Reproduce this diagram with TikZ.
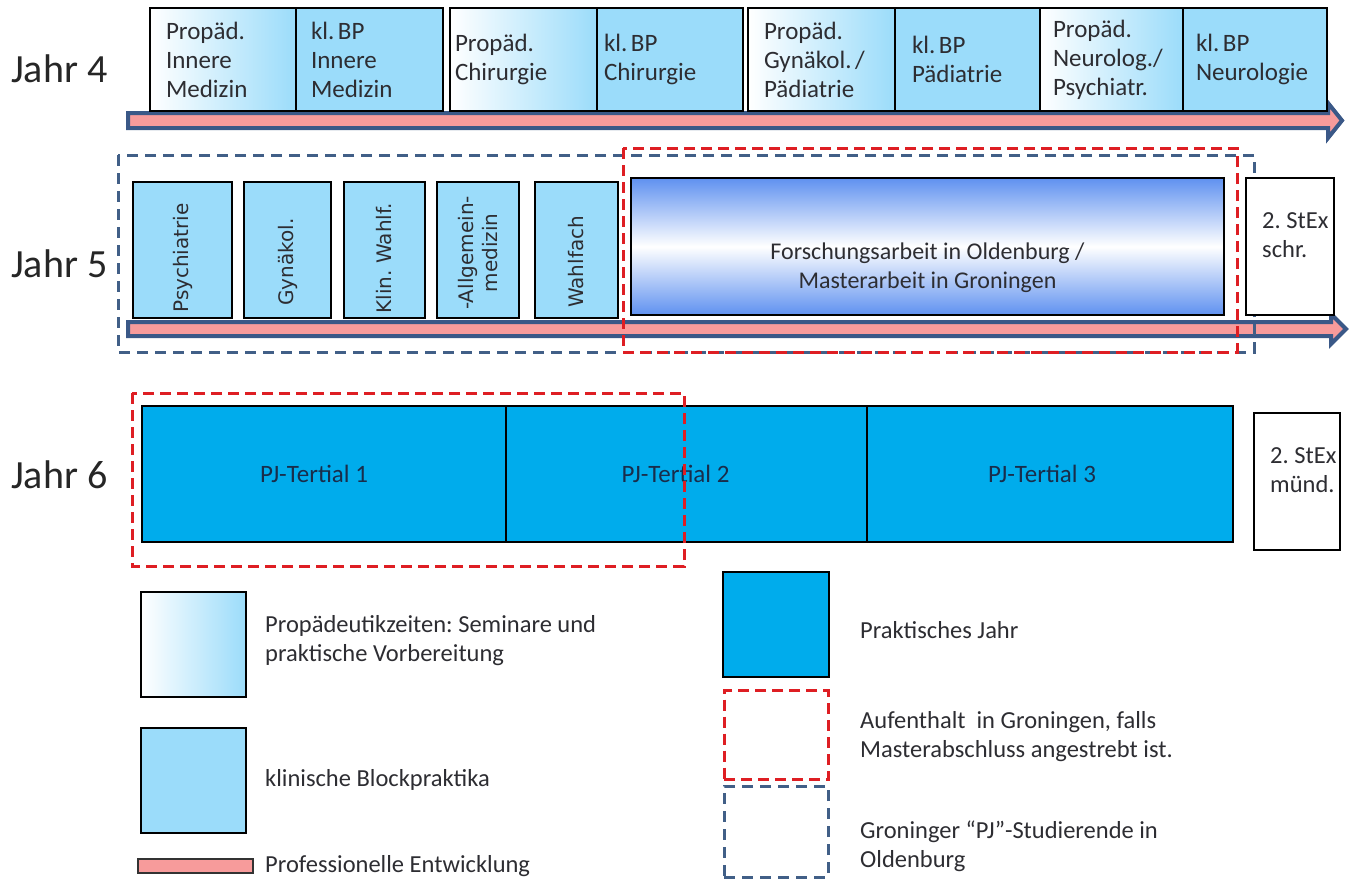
\documentclass[tikz,border=0pt]{standalone}
\usepackage{fontspec}
\setmainfont{Carlito}
\newfontfamily\dvs{DejaVu Sans}
\frenchspacing
\definecolor{lblue}{RGB}{155,220,250}
\definecolor{pjblue}{RGB}{0,172,236}
\definecolor{fblue}{RGB}{95,145,240}
\definecolor{pinkbar}{RGB}{247,155,155}
\definecolor{arrowblue}{RGB}{58,88,135}
\definecolor{dred}{RGB}{222,30,35}
\definecolor{dblue}{RGB}{65,95,135}
\definecolor{txt}{RGB}{45,45,50}
\definecolor{pjtxt}{RGB}{25,45,75}
\tikzset{
  r4/.style={draw=black, line width=1.2pt, inner ysep=0pt, minimum height=103pt, align=left,
    font=\fontsize{25}{29}\selectfont, text=txt},
  pbox/.style={r4, left color=white, right color=lblue},
  kbox/.style={r4, fill=lblue},
  r5/.style={draw=black, line width=1.2pt, fill=lblue, minimum height=136pt, inner sep=0pt},
  rottxt/.style={rotate=90, align=center, font=\dvs\fontsize{20}{24}\selectfont, text=txt},
  pjbox/.style={draw=black, line width=1.2pt, fill=pjblue, minimum height=136pt, inner sep=0pt,
    font=\fontsize{25}{30}\selectfont, text=pjtxt},
  exbox/.style={draw=black, line width=1.2pt, fill=white, minimum height=137pt, inner sep=0pt},
  lbl/.style={align=left, font=\fontsize{24.5}{29}\selectfont, text=txt, inner sep=0pt, anchor=west},
  jahr/.style={font=\fontsize{40}{46}\selectfont, text=black!85, inner sep=0pt, anchor=west},
  profarrow/.style={fill=pinkbar, draw=arrowblue, line width=4pt, miter limit=10},
  reddash/.style={draw=dred, line width=3pt, dash pattern=on 11pt off 6pt},
  bluedash/.style={draw=dblue, line width=3pt, dash pattern=on 11pt off 7pt}
}
\newcommand{\nsp}{\hspace{3.5pt}}
\begin{document}
\begin{tikzpicture}[x=1pt,y=-1pt]
\useasboundingbox (0,0) rectangle (1354,881);
\fill[white] (0,0) rectangle (1354,881);

% Year labels
\node[jahr] (j4) at (11,69) {Jahr 4};
\node[jahr] (j5) at (11,264) {Jahr 5};
\node[jahr] (j6) at (11,475) {Jahr 6};

% ---- Jahr 4 ----
\draw[profarrow] (128,113) -- (1328,113) -- (1328,103) -- (1342,120.5) -- (1328,138) -- (1328,128) -- (128,128) -- cycle;
\node[pbox, minimum width=146pt, inner xsep=16pt, text width=114pt] (p1) at (223,59.5) {Propäd.\\Innere\\Medizin};
\node[kbox, minimum width=147pt, inner xsep=15pt, text width=117pt] (k1) at (369.5,59.5) {kl.\nsp BP\\Innere\\Medizin};
\node[pbox, minimum width=147pt, inner xsep=5pt, text width=137pt] (p2) at (523.5,59.5) {Propäd.\\Chirurgie};
\node[kbox, minimum width=146pt, inner xsep=7pt, text width=132pt] (k2) at (670,59.5) {kl.\nsp BP\\Chirurgie};
\node[pbox, minimum width=147pt, inner xsep=16pt, text width=115pt] (p3) at (821.5,59.5) {Propäd.\\Gynäkol.\nsp/\\Pädiatrie};
\node[kbox, minimum width=145pt, inner xsep=17pt, text width=111pt] (k3) at (967.5,59.5) {kl.\nsp BP\\Pädiatrie};
\node[pbox, minimum width=143pt, inner xsep=13pt, text width=117pt] (p4) at (1111.5,59.5) {Propäd.\\Neurolog./\\Psychiatr.};
\node[kbox, minimum width=144pt, inner xsep=13pt, text width=118pt] (k4) at (1255,59.5) {kl.\nsp BP\\Neurologie};

% ---- Jahr 5 ----
\draw[profarrow] (128,322) -- (1331,322) -- (1331,314) -- (1346,329) -- (1331,344) -- (1331,336) -- (128,336) -- cycle;
\draw[bluedash] (118,155) rectangle (1254,352);
\node[r5, minimum width=99pt] (psy) at (182.5,250) {};
\node[rottxt] (tpsy) at ([yshift=-8pt]psy.center) {Psychiatrie};
\node[r5, minimum width=87pt] (gyn) at (287.5,250) {};
\node[rottxt] (tgyn) at ([yshift=-12pt]gyn.center) {Gynäkol.};
\node[r5, minimum width=81pt] (klin) at (384.5,250) {};
\node[rottxt] (tklin) at ([yshift=-8pt]klin.center) {Klin. Wahlf.};
\node[r5, minimum width=82pt] (allg) at (478,250) {};
\node[rottxt] (tallg) at ([yshift=-3pt]allg.center) {-Allgemein-\\medizin};
\node[r5, minimum width=83pt] (wahl) at (576.5,250) {};
\node[rottxt] (twahl) at ([yshift=-12pt]wahl.center) {Wahlfach};
\node[draw=black, line width=1.2pt, top color=fblue, bottom color=fblue, middle color=white,
      minimum width=593pt, minimum height=137pt, inner sep=0pt] (forsch) at (927.5,246.5) {};
\node[align=center, font=\fontsize{24}{29}\selectfont, text=txt, inner sep=0pt] (tforsch)
      at ([yshift=-21pt]forsch.center) {Forschungsarbeit in Oldenburg /\\Masterarbeit in Groningen};
\node[exbox, minimum width=88pt] (stex1) at (1290,246.5) {};
\node[lbl] (tstex1) at (1262,235) {2. StEx\\schr.};
\draw[reddash] (623,148) rectangle (1237,352);

% ---- Jahr 6 ----
\node[pjbox, minimum width=364pt] (pj1) at (324,474) {\hspace*{-20pt}PJ-Tertial 1};
\node[pjbox, minimum width=361pt] (pj2) at (686.5,474) {\hspace*{-22pt}PJ-Tertial 2};
\node[pjbox, minimum width=366pt] (pj3) at (1050,474) {\hspace*{-16pt}PJ-Tertial 3};
\node[exbox, minimum width=86pt] (stex2) at (1297,481.5) {};
\node[lbl] (tstex2) at (1270,470) {\hfill2. StEx\\münd.};
\draw[reddash] (132,393) rectangle (684,566);

% ---- Legend ----
\node[draw=black, line width=1.2pt, left color=white, right color=lblue, minimum width=105pt, minimum height=105pt, inner sep=0pt] (lg1) at (193.5,644.5) {};
\node[lbl] (tlg1) at (265,641) {Propädeutikzeiten: Seminare und\\praktische Vorbereitung};
\node[draw=black, line width=1.2pt, fill=lblue, minimum width=105pt, minimum height=105pt, inner sep=0pt] (lg2) at (193.5,780.5) {};
\node[lbl] (tlg2) at (265,780) {klinische Blockpraktika};
\node[draw=black!80, line width=1.5pt, fill=pinkbar, minimum width=115pt, minimum height=14pt, inner sep=0pt] (lg3) at (195.5,866) {};
\node[lbl] (tlg3) at (265,866) {Professionelle Entwicklung};

\node[draw=black, line width=1.2pt, fill=pjblue, minimum width=106pt, minimum height=105pt, inner sep=0pt] (lg4) at (776,624.5) {};
\node[lbl] (tlg4) at (860,630) {Praktisches Jahr};
\node[reddash, minimum width=104pt, minimum height=89pt, inner sep=0pt] (lg5) at (776,735) {};
\node[lbl] (tlg5) at (860,737) {Aufenthalt \ in Groningen, falls\\Masterabschluss angestrebt ist.};
\node[bluedash, minimum width=104pt, minimum height=91pt, inner sep=0pt] (lg6) at (776,831.5) {};
\node[lbl] (tlg6) at (860,846) {Groninger “PJ”-Studierende in\\Oldenburg};
\end{tikzpicture}
\end{document}
